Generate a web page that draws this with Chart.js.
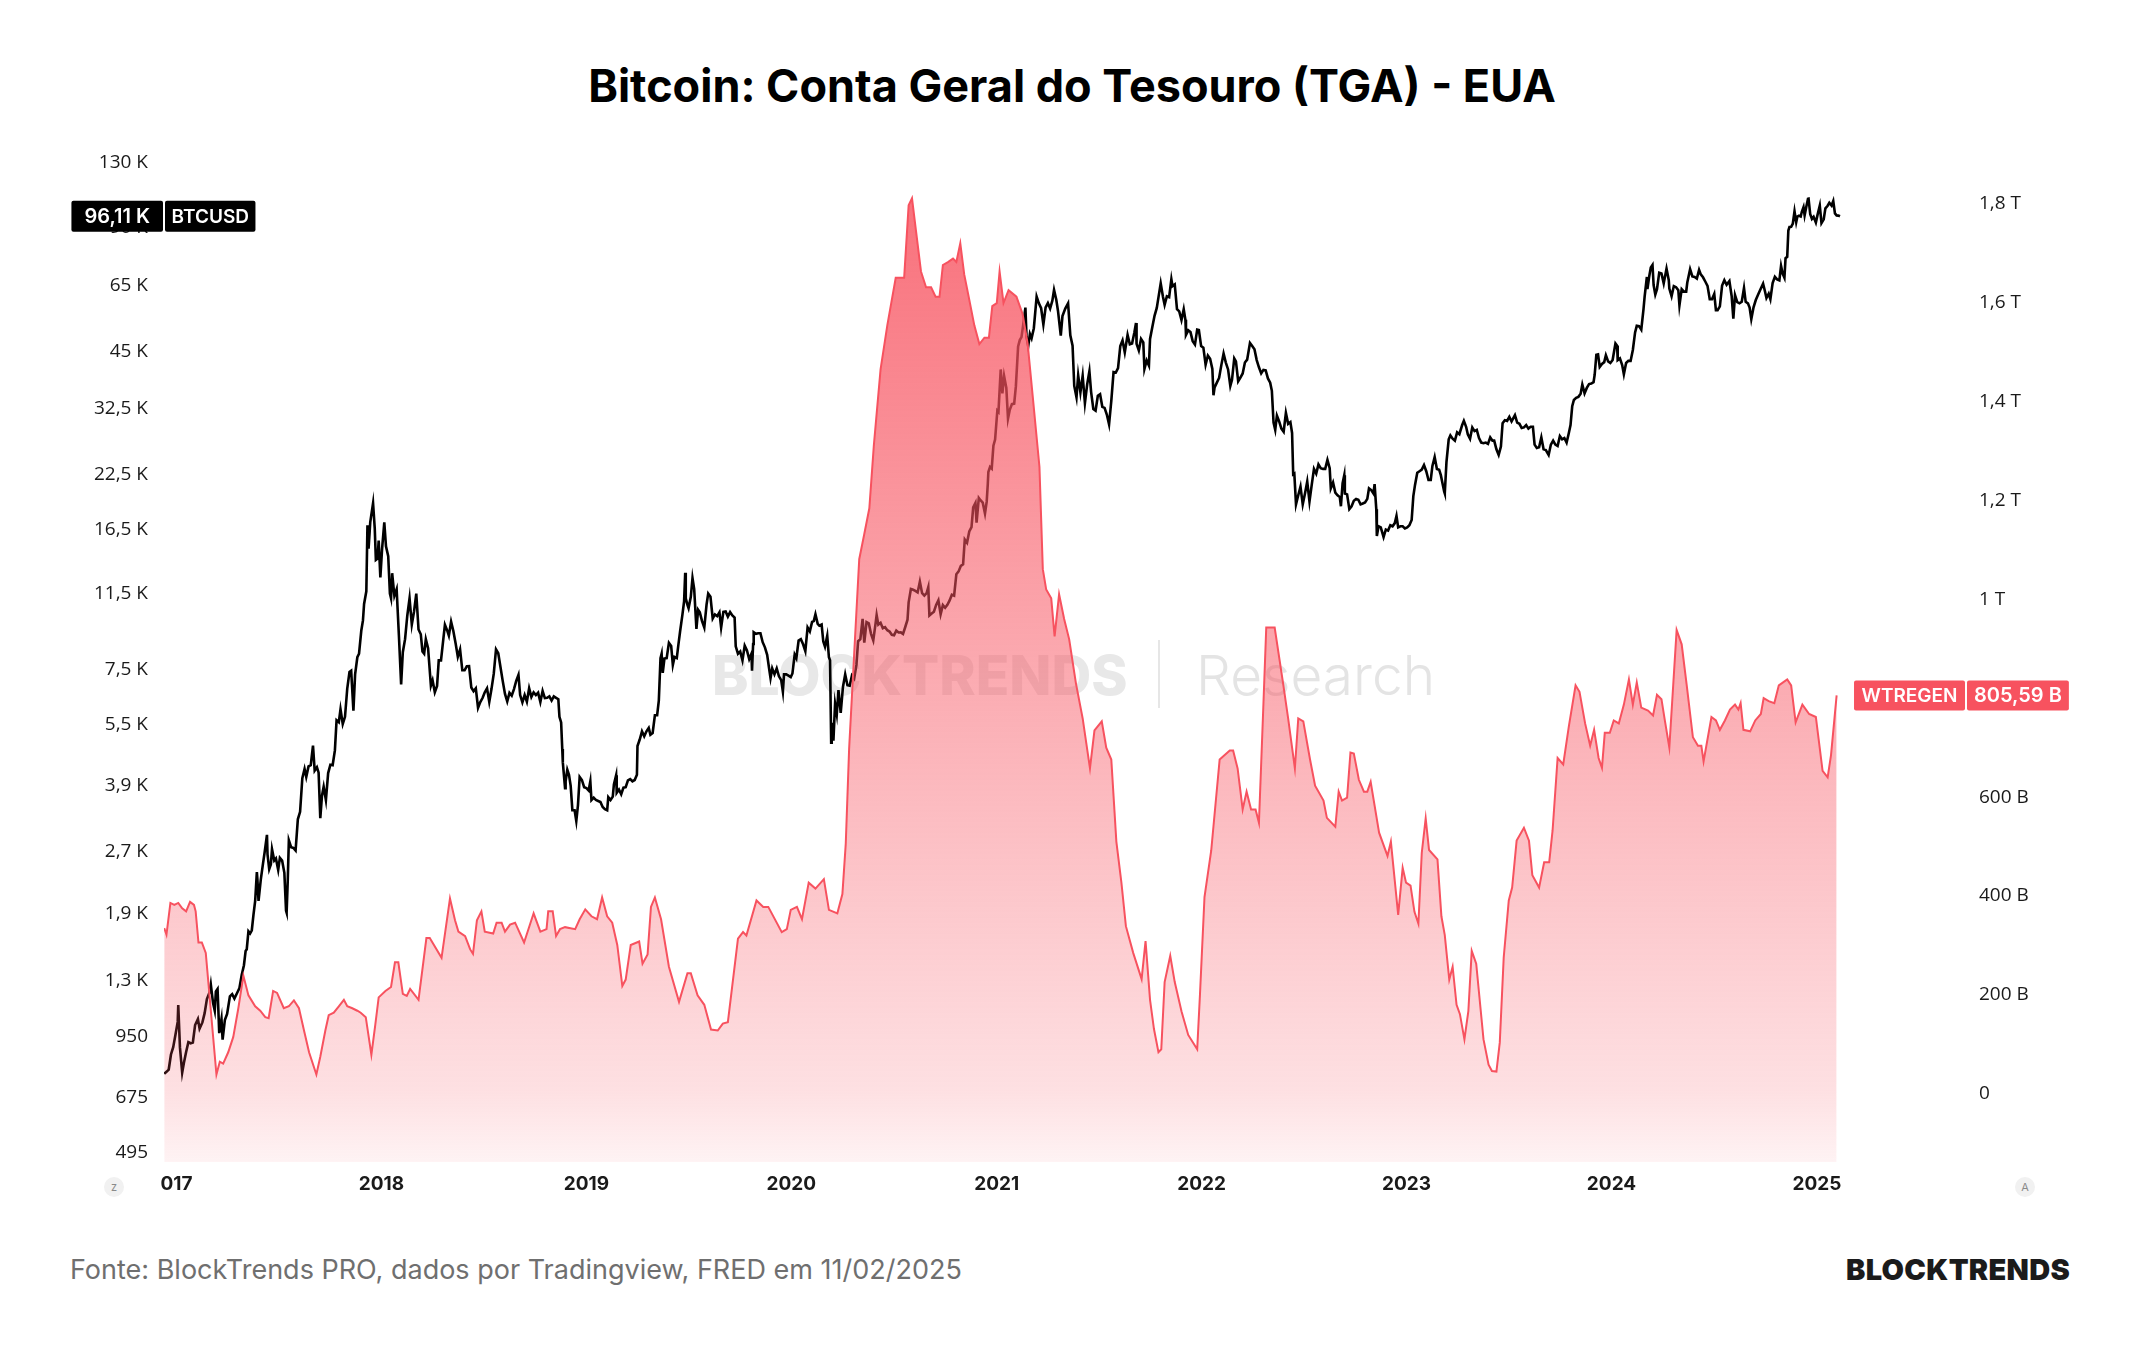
<!DOCTYPE html>
<html>
<head>
<meta charset="utf-8">
<script src="https://cdn.jsdelivr.net/npm/chart.js@4.4.1/dist/chart.umd.min.js"></script>
<style>
  html, body { margin:0; padding:0; background:#ffffff; width:2144px; height:1350px; overflow:hidden; font-family:Inter, "Noto Sans", sans-serif; }
  #wrap { position:relative; width:2144px; height:1350px; }
  #title { position:absolute; left:0; top:59px; width:2144px; text-align:center; font-weight:700; font-size:45px; line-height:54px; color:#000; }
  .wm { position:absolute; white-space:nowrap; font-size:55px; line-height:72px; top:639px; z-index:0; }
  #wm1 { left:712px; font-weight:800; color:#e8e8e8; }
  #wmbar { position:absolute; left:1158px; top:640px; width:2px; height:68px; background:#e6e6e6; z-index:0; }
  #wm2 { left:1196px; font-weight:300; color:#e4e4e4; }
  #chart { position:absolute; left:0; top:0; z-index:1; }
  #footer { position:absolute; left:70px; top:1252px; font-size:27px; line-height:36px; color:#6f6f6f; }
  #logo { position:absolute; left:1846px; top:1252px; font-size:29px; line-height:36px; font-weight:900; letter-spacing:0.3px; color:#1b1b1b; }
  .btn { position:absolute; width:20px; height:20px; border-radius:50%; background:#f1f1f1; color:#8a8a8a; font-size:11px; line-height:20px; text-align:center; z-index:2; }
</style>
</head>
<body>
<div id="wrap">
  <div id="title">Bitcoin: Conta Geral do Tesouro (TGA) - EUA</div>
  <div class="wm" id="wm1">BLOCKTRENDS</div>
  <div id="wmbar"></div>
  <div class="wm" id="wm2">Research</div>
  <canvas id="chart" width="2144" height="1350"></canvas>
  <div class="btn" style="left:104px;top:1177px;">z</div>
  <div class="btn" style="left:2015px;top:1177px;">A</div>
  <div id="footer">Fonte: BlockTrends PRO, dados por Tradingview, FRED em 11/02/2025</div>
  <div id="logo">BLOCKTRENDS</div>
</div>
<script>
// ---------- DATA ----------
const btcSymbol = 'BTCUSD';
const tgaSymbol = 'WTREGEN';

const yearTicks = [2017, 2018, 2019, 2020, 2021, 2022, 2023, 2024, 2025];
const btcTicks = [130000, 90000, 65000, 45000, 32500, 22500, 16500, 11500, 7500, 5500, 3900, 2700, 1900, 1300, 950, 675, 495];
const tgaTicks = [0, 200, 400, 600, 800, 1000, 1200, 1400, 1600, 1800]; // billions

// BTCUSD daily close (sampled), USD
const btcCloses = [
['2016-12-10',772],['2016-12-14',780],['2016-12-18',790],['2016-12-22',860],['2016-12-26',896],['2016-12-30',961],
['2017-01-03',1033],['2017-01-04',1135],['2017-01-07',895],['2017-01-11',777],['2017-01-14',820],['2017-01-18',872],['2017-01-22',922],['2017-01-26',916],['2017-01-30',920],
['2017-02-03',1015],['2017-02-08',1050],['2017-02-11',995],['2017-02-16',1030],['2017-02-20',1085],['2017-02-24',1175],
['2017-03-01',1222],['2017-03-03',1275],['2017-03-07',1148],['2017-03-10',1100],['2017-03-12',1226],['2017-03-15',1243],['2017-03-18',970],['2017-03-22',1050],['2017-03-24',935],['2017-03-28',1044],
['2017-04-01',1080],['2017-04-06',1193],['2017-04-10',1207],['2017-04-14',1178],['2017-04-19',1217],['2017-04-23',1250],['2017-04-27',1345],
['2017-05-01',1421],['2017-05-04',1540],['2017-05-06',1555],['2017-05-09',1720],['2017-05-12',1700],['2017-05-15',1730],['2017-05-18',1890],['2017-05-21',2040],['2017-05-24',2400],['2017-05-25',2300],['2017-05-27',2040],['2017-05-31',2300],
['2017-06-04',2520],['2017-06-07',2690],['2017-06-11',2960],['2017-06-12',2650],['2017-06-15',2440],['2017-06-18',2510],['2017-06-20',2730],['2017-06-24',2560],['2017-06-27',2590],
['2017-07-01',2430],['2017-07-04',2600],['2017-07-08',2560],['2017-07-12',2390],['2017-07-15',1930],['2017-07-16',1910],['2017-07-18',2280],['2017-07-20',2870],['2017-07-24',2760],['2017-07-28',2750],
['2017-08-01',2710],['2017-08-05',3230],['2017-08-09',3370],['2017-08-13',4070],['2017-08-17',4290],['2017-08-20',4100],['2017-08-24',4350],['2017-08-28',4380],
['2017-09-01',4890],['2017-09-04',4250],['2017-09-08',4330],['2017-09-11',4200],['2017-09-14',3250],['2017-09-17',3690],['2017-09-20',3880],['2017-09-24',3600],['2017-09-28',4190],
['2017-10-02',4390],['2017-10-06',4380],['2017-10-10',4760],['2017-10-13',5640],['2017-10-17',5580],['2017-10-20',6000],['2017-10-24',5520],['2017-10-28',5750],
['2017-11-01',6740],['2017-11-05',7400],['2017-11-08',7450],['2017-11-12',5950],['2017-11-15',7300],['2017-11-19',8040],['2017-11-22',8200],['2017-11-26',9330],['2017-11-29',9890],
['2017-12-01',10850],['2017-12-05',11650],['2017-12-07',16900],['2017-12-09',14800],['2017-12-12',17200],['2017-12-17',19140],['2017-12-20',16600],['2017-12-22',13900],['2017-12-25',14000],['2017-12-27',15500],['2017-12-30',12600],
['2018-01-02',14750],['2018-01-06',17170],['2018-01-09',15000],['2018-01-13',14200],['2018-01-16',11500],['2018-01-18',11200],['2018-01-20',12900],['2018-01-24',11360],['2018-01-28',11790],
['2018-02-01',9100],['2018-02-05',6900],['2018-02-08',8270],['2018-02-12',8900],['2018-02-16',10170],['2018-02-20',11200],['2018-02-24',9660],['2018-02-28',10400],
['2018-03-04',11500],['2018-03-08',9400],['2018-03-12',9150],['2018-03-15',8300],['2018-03-18',8200],['2018-03-21',8900],['2018-03-25',8460],['2018-03-30',6850],
['2018-04-02',7060],['2018-04-06',6600],['2018-04-10',6840],['2018-04-13',7900],['2018-04-17',7900],['2018-04-21',8860],['2018-04-24',9650],['2018-04-28',9350],
['2018-05-01',9080],['2018-05-05',9820],['2018-05-09',9320],['2018-05-13',8700],['2018-05-17',8060],['2018-05-21',8400],['2018-05-25',7470],['2018-05-29',7470],
['2018-06-02',7640],['2018-06-06',7650],['2018-06-10',6780],['2018-06-14',6640],['2018-06-18',6750],['2018-06-22',6050],['2018-06-26',6250],['2018-06-30',6390],
['2018-07-04',6600],['2018-07-08',6750],['2018-07-12',6250],['2018-07-16',6730],['2018-07-20',7330],['2018-07-24',8400],['2018-07-28',8220],
['2018-08-01',7600],['2018-08-05',7030],['2018-08-09',6540],['2018-08-13',6270],['2018-08-17',6580],['2018-08-21',6480],['2018-08-25',6720],['2018-08-29',7040],
['2018-09-02',7280],['2018-09-05',6500],['2018-09-09',6240],['2018-09-13',6500],['2018-09-17',6260],['2018-09-21',6750],['2018-09-25',6430],['2018-09-29',6600],
['2018-10-03',6500],['2018-10-07',6590],['2018-10-11',6250],['2018-10-15',6650],['2018-10-19',6390],['2018-10-23',6400],['2018-10-27',6450],['2018-10-31',6300],
['2018-11-04',6450],['2018-11-08',6400],['2018-11-12',6350],['2018-11-14',5750],['2018-11-17',5570],['2018-11-19',4800],['2018-11-20',4450],['2018-11-24',3850],['2018-11-25',4000],['2018-11-28',4270],
['2018-12-01',4150],['2018-12-04',3900],['2018-12-07',3400],['2018-12-11',3400],['2018-12-14',3200],['2018-12-17',3500],['2018-12-20',4100],['2018-12-24',4030],['2018-12-28',3870],
['2019-01-01',3850],['2019-01-05',3800],['2019-01-08',4000],['2019-01-10',3600],['2019-01-14',3650],['2019-01-18',3600],['2019-01-22',3580],['2019-01-26',3560],['2019-01-30',3460],
['2019-02-03',3420],['2019-02-07',3400],['2019-02-09',3660],['2019-02-13',3600],['2019-02-17',3670],['2019-02-19',3930],['2019-02-23',4140],['2019-02-24',3750],['2019-02-28',3820],
['2019-03-04',3720],['2019-03-08',3860],['2019-03-12',3870],['2019-03-16',4020],['2019-03-20',4050],['2019-03-24',4000],['2019-03-28',4030],
['2019-04-01',4150],['2019-04-02',4880],['2019-04-06',5060],['2019-04-10',5300],['2019-04-14',5150],['2019-04-18',5300],['2019-04-22',5400],['2019-04-25',5200],['2019-04-29',5250],
['2019-05-03',5800],['2019-05-07',5800],['2019-05-10',6300],['2019-05-13',8000],['2019-05-15',8200],['2019-05-17',7360],['2019-05-20',7980],['2019-05-24',8000],['2019-05-28',8720],
['2019-06-01',8570],['2019-06-04',7700],['2019-06-07',8050],['2019-06-11',8000],['2019-06-14',8660],['2019-06-17',9320],['2019-06-21',10200],['2019-06-24',11000],['2019-06-26',12930],['2019-06-27',11200],['2019-06-30',10800],
['2019-07-02',10600],['2019-07-06',11300],['2019-07-09',12550],['2019-07-12',11800],['2019-07-16',9430],['2019-07-19',10500],['2019-07-22',10350],['2019-07-26',9850],['2019-07-30',9500],
['2019-08-03',10800],['2019-08-06',11500],['2019-08-10',11300],['2019-08-14',10000],['2019-08-18',10230],['2019-08-22',10130],['2019-08-26',10350],['2019-08-29',9500],
['2019-09-02',10380],['2019-09-06',10400],['2019-09-10',10100],['2019-09-14',10360],['2019-09-18',10170],['2019-09-22',10050],['2019-09-24',8550],['2019-09-28',8200],
['2019-10-02',8300],['2019-10-06',7900],['2019-10-10',8580],['2019-10-14',8350],['2019-10-18',7950],['2019-10-22',8200],['2019-10-23',7450],['2019-10-25',8660],['2019-10-26',9250],['2019-10-30',9170],
['2019-11-03',9200],['2019-11-07',9200],['2019-11-11',8750],['2019-11-15',8500],['2019-11-19',8150],['2019-11-22',7620],['2019-11-25',7150],['2019-11-28',7550],
['2019-12-02',7300],['2019-12-06',7550],['2019-12-10',7220],['2019-12-14',7070],['2019-12-17',6620],['2019-12-19',7300],['2019-12-23',7300],['2019-12-27',7250],['2019-12-31',7190],
['2020-01-03',7340],['2020-01-07',8160],['2020-01-10',8000],['2020-01-14',8830],['2020-01-18',8900],['2020-01-22',8650],['2020-01-26',8320],['2020-01-30',9510],
['2020-02-03',9300],['2020-02-07',9810],['2020-02-10',9850],['2020-02-13',10240],['2020-02-17',9700],['2020-02-20',9600],['2020-02-24',9660],['2020-02-27',8780],
['2020-03-01',8530],['2020-03-05',9070],['2020-03-08',8040],['2020-03-10',7900],['2020-03-12',4970],['2020-03-13',5560],['2020-03-16',5030],['2020-03-19',6190],['2020-03-22',5830],['2020-03-25',6680],['2020-03-29',5880],
['2020-04-02',6800],['2020-04-06',7300],['2020-04-10',6870],['2020-04-14',6850],['2020-04-18',7250],['2020-04-22',7130],['2020-04-26',7700],['2020-04-29',8800],
['2020-05-03',8900],['2020-05-07',9980],['2020-05-10',8730],['2020-05-14',9800],['2020-05-18',9730],['2020-05-22',9170],['2020-05-26',8840],['2020-05-30',9700],
['2020-06-01',10200],['2020-06-04',9660],['2020-06-08',9760],['2020-06-12',9460],['2020-06-16',9520],['2020-06-20',9360],['2020-06-24',9290],['2020-06-28',9120],
['2020-07-02',9100],['2020-07-06',9340],['2020-07-10',9240],['2020-07-14',9250],['2020-07-18',9170],['2020-07-22',9530],['2020-07-26',9930],['2020-07-28',10950],
['2020-08-01',11800],['2020-08-05',11750],['2020-08-09',11680],['2020-08-13',11580],['2020-08-17',12300],['2020-08-21',11530],['2020-08-25',11370],['2020-08-29',11530],
['2020-09-01',11920],['2020-09-03',10170],['2020-09-07',10280],['2020-09-11',10390],['2020-09-15',10790],['2020-09-19',11080],['2020-09-23',10240],['2020-09-27',10780],
['2020-10-01',10620],['2020-10-05',10800],['2020-10-09',11070],['2020-10-13',11430],['2020-10-17',11370],['2020-10-21',12830],['2020-10-25',13030],['2020-10-29',13450],
['2020-11-02',13560],['2020-11-05',15590],['2020-11-09',15310],['2020-11-13',16310],['2020-11-17',16720],['2020-11-20',18680],['2020-11-24',19150],['2020-11-26',17150],['2020-11-30',19700],
['2020-12-03',19450],['2020-12-07',19190],['2020-12-11',18050],['2020-12-14',19270],['2020-12-16',21310],['2020-12-17',22800],['2020-12-20',23470],['2020-12-23',23240],['2020-12-26',26440],['2020-12-29',27360],
['2021-01-02',32200],['2021-01-04',31970],['2021-01-08',40600],['2021-01-11',35500],['2021-01-14',39150],['2021-01-18',36600],['2021-01-21',30800],['2021-01-24',32290],['2021-01-28',33400],
['2021-02-01',33500],['2021-02-04',36900],['2021-02-08',46200],['2021-02-11',47900],['2021-02-14',48700],['2021-02-17',52100],['2021-02-21',57500],['2021-02-23',48800],['2021-02-26',46300],
['2021-03-01',49600],['2021-03-04',48400],['2021-03-08',51200],['2021-03-13',61200],['2021-03-17',58900],['2021-03-21',57300],['2021-03-25',52300],['2021-03-29',57600],
['2021-04-02',59000],['2021-04-06',57200],['2021-04-10',59800],['2021-04-13',63500],['2021-04-17',60100],['2021-04-20',56500],['2021-04-25',49100],['2021-04-28',54800],
['2021-05-03',57200],['2021-05-08',58900],['2021-05-12',49200],['2021-05-16',46400],['2021-05-19',37000],['2021-05-23',34700],['2021-05-26',39300],['2021-05-30',35700],
['2021-06-03',39200],['2021-06-07',33600],['2021-06-11',37300],['2021-06-15',40200],['2021-06-18',35800],['2021-06-22',32500],['2021-06-26',32200],['2021-06-30',35000],
['2021-07-04',35300],['2021-07-08',32900],['2021-07-12',32700],['2021-07-16',31500],['2021-07-20',29800],['2021-07-24',34000],['2021-07-28',40000],
['2021-08-01',39900],['2021-08-05',40900],['2021-08-09',46300],['2021-08-13',47800],['2021-08-17',44700],['2021-08-22',49300],['2021-08-26',46800],['2021-08-30',47000],
['2021-09-03',49900],['2021-09-06',52700],['2021-09-07',46900],['2021-09-11',45200],['2021-09-15',48200],['2021-09-19',47300],['2021-09-21',40700],['2021-09-25',42700],['2021-09-29',41500],
['2021-10-01',48200],['2021-10-05',51500],['2021-10-09',54900],['2021-10-13',57400],['2021-10-16',60900],['2021-10-20',65900],['2021-10-24',61100],['2021-10-27',58400],['2021-10-31',61300],
['2021-11-04',61000],['2021-11-08',67500],['2021-11-10',64900],['2021-11-14',65500],['2021-11-18',57000],['2021-11-22',56300],['2021-11-26',53600],['2021-11-30',57000],
['2021-12-03',53700],['2021-12-04',49300],['2021-12-08',50600],['2021-12-12',50100],['2021-12-16',47600],['2021-12-20',46700],['2021-12-24',50800],['2021-12-27',50700],['2021-12-31',46300],
['2022-01-04',45900],['2022-01-08',41700],['2022-01-12',43900],['2022-01-16',43100],['2022-01-20',40700],['2022-01-22',35100],['2022-01-24',36700],['2022-01-28',37700],
['2022-02-01',38700],['2022-02-05',41600],['2022-02-09',44400],['2022-02-13',42200],['2022-02-17',40600],['2022-02-21',37000],['2022-02-24',38300],['2022-02-28',43200],
['2022-03-03',42500],['2022-03-07',38000],['2022-03-11',38800],['2022-03-15',39700],['2022-03-19',42200],['2022-03-23',42900],['2022-03-28',47100],
['2022-04-01',46300],['2022-04-05',45500],['2022-04-09',42800],['2022-04-13',41100],['2022-04-17',39700],['2022-04-21',40500],['2022-04-25',40400],['2022-04-29',38600],
['2022-05-03',37700],['2022-05-06',36000],['2022-05-09',30100],['2022-05-12',28900],['2022-05-15',31300],['2022-05-19',30300],['2022-05-23',29100],['2022-05-27',28600],['2022-05-31',31800],
['2022-06-04',29900],['2022-06-08',30200],['2022-06-11',28400],['2022-06-13',22500],['2022-06-15',22600],['2022-06-18',19000],['2022-06-22',20000],['2022-06-26',21000],['2022-06-30',19000],
['2022-07-04',20200],['2022-07-08',21600],['2022-07-12',19300],['2022-07-16',21200],['2022-07-20',23200],['2022-07-24',22600],['2022-07-28',23800],
['2022-08-01',23300],['2022-08-05',23200],['2022-08-09',23200],['2022-08-13',24400],['2022-08-17',23300],['2022-08-19',20800],['2022-08-23',21500],['2022-08-27',20300],['2022-08-31',20000],
['2022-09-04',19800],['2022-09-06',18800],['2022-09-09',21400],['2022-09-12',22400],['2022-09-13',20200],['2022-09-17',20100],['2022-09-21',18500],['2022-09-25',18800],['2022-09-29',19400],
['2022-10-03',19600],['2022-10-07',19500],['2022-10-11',19000],['2022-10-15',19100],['2022-10-19',19200],['2022-10-23',19600],['2022-10-26',20800],['2022-10-30',20600],
['2022-11-03',20200],['2022-11-05',21300],['2022-11-08',18500],['2022-11-09',15900],['2022-11-12',16800],['2022-11-16',16700],['2022-11-21',15800],['2022-11-25',16500],['2022-11-29',16400],
['2022-12-03',16900],['2022-12-07',16800],['2022-12-11',17100],['2022-12-14',17800],['2022-12-17',16700],['2022-12-21',16800],['2022-12-25',16800],['2022-12-29',16600],
['2023-01-02',16700],['2023-01-06',16900],['2023-01-10',17400],['2023-01-13',19900],['2023-01-16',21200],['2023-01-20',22700],['2023-01-24',22900],['2023-01-28',23100],
['2023-02-01',23700],['2023-02-05',22900],['2023-02-09',21800],['2023-02-13',21800],['2023-02-16',23600],['2023-02-20',24800],['2023-02-24',23200],['2023-02-28',23100],
['2023-03-03',22400],['2023-03-09',20400],['2023-03-10',20200],['2023-03-13',24100],['2023-03-17',27400],['2023-03-20',28000],['2023-03-24',27500],['2023-03-28',27200],
['2023-04-01',28500],['2023-04-05',28200],['2023-04-10',29700],['2023-04-13',30400],['2023-04-17',29400],['2023-04-20',28200],['2023-04-24',27500],['2023-04-28',29300],
['2023-05-02',28700],['2023-05-06',28900],['2023-05-10',27600],['2023-05-14',26900],['2023-05-18',26800],['2023-05-22',26900],['2023-05-26',26700],['2023-05-30',27700],
['2023-06-03',27200],['2023-06-06',27200],['2023-06-10',25900],['2023-06-14',25100],['2023-06-18',26300],['2023-06-21',30000],['2023-06-25',30500],['2023-06-29',30400],
['2023-07-03',31100],['2023-07-07',30300],['2023-07-13',31400],['2023-07-17',30100],['2023-07-21',29900],['2023-07-25',29200],['2023-07-29',29300],
['2023-08-02',29700],['2023-08-06',29100],['2023-08-10',29400],['2023-08-14',29400],['2023-08-17',26600],['2023-08-21',26100],['2023-08-25',26200],['2023-08-29',27700],
['2023-09-02',25900],['2023-09-06',25800],['2023-09-11',25100],['2023-09-15',26600],['2023-09-19',27200],['2023-09-23',26600],['2023-09-27',26400],
['2023-10-01',27900],['2023-10-05',27400],['2023-10-09',27600],['2023-10-13',26900],['2023-10-17',28400],['2023-10-20',29700],['2023-10-23',33000],['2023-10-26',34200],['2023-10-30',34600],
['2023-11-03',34800],['2023-11-07',35400],['2023-11-10',37300],['2023-11-14',35500],['2023-11-18',36600],['2023-11-22',37400],['2023-11-26',37500],['2023-11-30',37800],
['2023-12-02',39400],['2023-12-05',44100],['2023-12-08',44200],['2023-12-11',41200],['2023-12-15',41900],['2023-12-19',42300],['2023-12-22',44000],['2023-12-26',42500],['2023-12-30',42100],
['2024-01-03',42800],['2024-01-08',47000],['2024-01-11',46400],['2024-01-12',42800],['2024-01-16',43200],['2024-01-20',41600],['2024-01-23',39500],['2024-01-27',42100],['2024-01-31',42600],
['2024-02-04',42600],['2024-02-08',45300],['2024-02-12',50000],['2024-02-15',51900],['2024-02-19',51800],['2024-02-23',50800],['2024-02-27',57000],['2024-02-29',61200],
['2024-03-04',68300],['2024-03-05',63800],['2024-03-08',68300],['2024-03-11',72100],['2024-03-14',73100],['2024-03-16',65300],['2024-03-19',61900],['2024-03-22',63800],['2024-03-26',70000],['2024-03-30',69700],
['2024-04-03',65900],['2024-04-08',71600],['2024-04-12',67100],['2024-04-13',64000],['2024-04-17',61300],['2024-04-21',64900],['2024-04-25',64500],['2024-04-29',63400],
['2024-05-01',58200],['2024-05-05',63800],['2024-05-09',62900],['2024-05-13',62900],['2024-05-15',66200],['2024-05-20',71400],['2024-05-24',68500],['2024-05-28',68300],
['2024-06-01',67700],['2024-06-05',71100],['2024-06-08',69300],['2024-06-12',68200],['2024-06-16',66600],['2024-06-20',65000],['2024-06-24',60300],['2024-06-28',60300],
['2024-07-02',62100],['2024-07-05',56700],['2024-07-08',56700],['2024-07-12',57900],['2024-07-16',65100],['2024-07-20',67100],['2024-07-24',65400],['2024-07-29',66800],
['2024-08-02',61400],['2024-08-05',54000],['2024-08-08',61700],['2024-08-12',59300],['2024-08-16',58900],['2024-08-20',59400],['2024-08-24',64200],['2024-08-27',59400],['2024-08-31',58900],
['2024-09-03',57500],['2024-09-06',53900],['2024-09-10',57600],['2024-09-14',60000],['2024-09-18',61800],['2024-09-22',63600],['2024-09-27',65800],['2024-09-30',63300],
['2024-10-03',60700],['2024-10-07',62200],['2024-10-10',60300],['2024-10-14',66000],['2024-10-18',68400],['2024-10-22',67400],['2024-10-26',67000],['2024-10-29',72700],
['2024-11-01',69500],['2024-11-04',68000],['2024-11-06',75900],['2024-11-09',76500],['2024-11-11',88700],['2024-11-13',90500],['2024-11-16',90600],['2024-11-19',92300],['2024-11-22',98900],['2024-11-25',93000],['2024-11-27',95900],['2024-11-30',96400],
['2024-12-03',96000],['2024-12-05',98600],['2024-12-08',101200],['2024-12-10',96600],['2024-12-13',101400],['2024-12-16',106000],['2024-12-17',106100],['2024-12-20',97200],['2024-12-23',94700],['2024-12-26',95800],['2024-12-30',92800],
['2025-01-02',96900],['2025-01-06',102100],['2025-01-09',92500],['2025-01-13',94500],['2025-01-16',100500],['2025-01-20',102000],['2025-01-23',103700],['2025-01-27',102100],['2025-01-30',104700],
['2025-02-02',97700],['2025-02-05',96600],['2025-02-08',96500],['2025-02-11',96110]
];

// WTREGEN weekly Treasury General Account balance, billions USD
const tgaBalances = [
['2016-12-10',335],['2016-12-14',322],['2016-12-21',386],['2016-12-28',382],
['2017-01-04',386],['2017-01-11',375],['2017-01-18',369],['2017-01-25',388],['2017-02-01',382],['2017-02-04',369],['2017-02-09',306],['2017-02-15',306],['2017-02-22',285],['2017-03-13',39],['2017-03-19',65],['2017-03-25',61],['2017-04-03',84],['2017-04-12',115],['2017-04-21',173],['2017-04-30',239],['2017-05-09',199],['2017-05-21',177],['2017-05-30',168],['2017-06-08',155],['2017-06-14',153],['2017-06-22',208],['2017-06-29',204],['2017-07-11',173],['2017-07-20',177],['2017-07-29',189],['2017-08-07',173],['2017-08-16',128],['2017-08-25',84],['2017-09-07',39],['2017-09-14',75],['2017-09-23',128],['2017-09-29',159],['2017-10-08',164],['2017-10-17',177],['2017-10-26',190],['2017-11-01',177],['2017-11-10',173],['2017-11-19',168],['2017-11-25',164],['2017-12-04',155],['2017-12-14',79],['2017-12-21',140],['2017-12-27',195],
['2018-01-08',208],['2018-01-18',216],['2018-01-25',266],['2018-01-31',266],['2018-02-08',202],['2018-02-15',198],['2018-02-21',212],['2018-03-08',190],['2018-03-22',315],['2018-03-28',315],['2018-04-18',275],['2018-05-03',395],['2018-05-12',351],['2018-05-18',328],['2018-05-30',319],['2018-06-08',292],['2018-06-13',283],['2018-06-20',351],['2018-06-28',369],['2018-07-04',328],['2018-07-19',324],['2018-07-25',346],['2018-08-03',346],['2018-08-09',328],['2018-08-18',342],['2018-08-27',346],['2018-09-12',306],['2018-09-29',365],['2018-10-11',328],['2018-10-22',333],['2018-10-25',369],['2018-11-02',369],['2018-11-08',319],['2018-11-15',333],['2018-11-24',337],['2018-12-12',333],['2018-12-20',353],['2018-12-30',373],
['2019-01-10',359],['2019-01-20',353],['2019-01-29',397],['2019-02-07',359],['2019-02-16',346],['2019-02-25',301],['2019-03-06',218],['2019-03-12',231],['2019-03-21',301],['2019-04-05',308],['2019-04-11',263],['2019-04-20',282],['2019-04-26',378],['2019-05-03',397],['2019-05-14',353],['2019-05-28',257],['2019-06-15',186],['2019-06-30',244],['2019-07-06',244],['2019-07-18',199],['2019-07-30',180],['2019-08-11',130],['2019-08-23',128],['2019-09-01',142],['2019-09-10',145],['2019-09-28',314],['2019-10-07',327],['2019-10-13',320],['2019-10-31',391],['2019-11-12',378],['2019-11-21',378],['2019-12-15',327],['2019-12-24',333],['2019-12-31',372],
['2020-01-11',378],['2020-01-20',353],['2020-02-01',427],['2020-02-13',415],['2020-02-28',434],['2020-03-08',372],['2020-03-23',365],['2020-04-01',404],['2020-04-07',506],['2020-04-13',698],['2020-04-22',890],['2020-05-01',1081],['2020-05-10',1132],['2020-05-19',1184],['2020-05-27',1311],['2020-06-08',1465],['2020-06-20',1554],['2020-07-05',1650],['2020-07-20',1650],['2020-07-28',1797],['2020-08-03',1811],['2020-08-10',1746],['2020-08-19',1663],['2020-08-28',1631],['2020-09-06',1631],['2020-09-14',1612],['2020-09-21',1612],['2020-09-27',1676],['2020-10-06',1682],['2020-10-15',1689],['2020-10-21',1682],['2020-10-28',1720],['2020-11-04',1657],['2020-11-13',1606],['2020-11-22',1554],['2020-12-01',1516],['2020-12-10',1529],['2020-12-18',1529],['2020-12-24',1593],
['2021-01-01',1599],['2021-01-06',1663],['2021-01-13',1599],['2021-01-22',1625],['2021-02-05',1612],['2021-02-16',1577],['2021-02-25',1517],['2021-03-06',1411],['2021-03-18',1268],['2021-03-24',1061],['2021-03-30',1020],['2021-04-08',1002],['2021-04-14',925],['2021-04-22',1010],['2021-05-01',960],['2021-05-10',919],['2021-05-22',830],['2021-06-03',759],['2021-06-16',658],['2021-06-24',735],['2021-07-07',753],['2021-07-15',700],['2021-07-24',676],['2021-08-02',510],['2021-08-11',427],['2021-08-19',339],['2021-09-01',285],['2021-09-16',232],['2021-09-23',309],['2021-10-01',190],['2021-10-08',131],['2021-10-16',84],['2021-10-21',90],['2021-10-27',226],['2021-11-06',279],['2021-11-14',226],['2021-11-26',167],['2021-12-08',119],['2021-12-24',90],['2021-12-29',202],
['2022-01-06',398],['2022-01-18',492],['2022-02-02',676],['2022-02-20',694],['2022-02-26',694],['2022-03-06',658],['2022-03-15',575],['2022-03-22',611],['2022-03-30',575],['2022-04-07',575],['2022-04-13',548],['2022-04-20',759],['2022-04-26',943],['2022-05-11',943],['2022-05-26',830],['2022-06-04',759],['2022-06-16',658],['2022-06-22',759],['2022-07-01',753],['2022-07-13',676],['2022-07-22',623],['2022-08-06',593],['2022-08-12',558],['2022-08-27',540],['2022-09-02',611],['2022-09-08',593],['2022-09-17',599],['2022-09-23',690],['2022-09-29',688],['2022-10-08',635],['2022-10-17',611],['2022-10-23',611],['2022-10-29',631],['2022-11-13',528],['2022-11-28',481],['2022-12-04',510],['2022-12-17',362],['2022-12-25',457],['2022-12-31',427],
['2023-01-08',421],['2023-01-15',368],['2023-01-22',344],['2023-01-28',487],['2023-02-04',557],['2023-02-10',493],['2023-02-25',474],['2023-03-04',359],['2023-03-10',321],['2023-03-18',231],['2023-03-24',257],['2023-03-31',180],['2023-04-06',161],['2023-04-14',110],['2023-04-21',167],['2023-04-27',289],['2023-05-05',263],['2023-05-18',110],['2023-05-27',59],['2023-06-02',46],['2023-06-10',45],['2023-06-16',104],['2023-06-23',276],['2023-07-02',391],['2023-07-08',417],['2023-07-16',512],['2023-07-29',538],['2023-08-07',512],['2023-08-13',442],['2023-08-25',417],['2023-09-03',468],['2023-09-12',468],['2023-09-18',532],['2023-09-27',679],['2023-10-07',666],['2023-10-17',743],['2023-10-29',826],['2023-11-05',813],['2023-11-15',749],['2023-11-24',704],['2023-12-01',736],['2023-12-09',679],['2023-12-15',659],['2023-12-20',730],['2023-12-29',730],
['2024-01-05',755],['2024-01-14',749],['2024-01-23',787],['2024-02-01',838],['2024-02-08',787],['2024-02-15',832],['2024-02-23',781],['2024-03-06',775],['2024-03-15',765],['2024-03-22',807],['2024-03-30',798],['2024-04-05',755],['2024-04-13',700],['2024-04-26',938],['2024-05-05',909],['2024-05-14',826],['2024-05-25',721],['2024-06-03',704],['2024-06-09',704],['2024-06-13',672],['2024-06-27',762],['2024-07-05',755],['2024-07-12',736],['2024-07-21',755],['2024-07-30',777],['2024-08-08',787],['2024-08-14',777],['2024-08-18',790],['2024-08-23',736],['2024-09-04',733],['2024-09-13',755],['2024-09-23',768],['2024-09-28',800],['2024-10-07',794],['2024-10-17',790],['2024-10-25',826],['2024-11-09',838],['2024-11-16',826],['2024-11-24',751],['2024-12-06',787],['2024-12-18',768],['2024-12-30',762],
['2025-01-11',653],['2025-01-20',640],['2025-01-26',685],['2025-02-05',805.59]
];

// ---------- HELPERS ----------
const DAY = 86400000;
const toTs = s => Date.parse(s + 'T00:00:00Z');
const btcPoints = btcCloses.map(([d, v]) => ({ x: toTs(d), y: v }));
const tgaPoints = tgaBalances.map(([d, v]) => ({ x: toTs(d), y: v }));
const btcLast = btcCloses[btcCloses.length - 1][1];
const tgaLast = tgaBalances[tgaBalances.length - 1][1];

const fmtNum = (v, dec) => {
  let s = dec != null ? v.toFixed(dec) : String(v);
  return s.replace('.', ',');
};
const fmtBtc = v => v >= 1000 ? fmtNum(+(v / 1000).toFixed(2)) + ' K' : String(v);
const fmtTga = v => v === 0 ? '0' : (v >= 1000 ? fmtNum(+(v / 1000).toFixed(2)) + ' T' : fmtNum(v) + ' B');

const RED = '#f7525f';
const TEXT = '#1a1a1a';
const FONT = 'Inter, "Noto Sans", sans-serif';
const TICKFONT = '"Open Sans", "Noto Sans", sans-serif';

const LEFT_W = 164, RIGHT_W = 181, TOP = 130, XAXIS_H = 40, BOTTOM_EDGE = 1162;

function tgaFill(context) {
  const chart = context.chart;
  const { ctx, chartArea } = chart;
  if (!chartArea) return 'rgba(247,82,95,0.4)';
  const g = ctx.createLinearGradient(0, chartArea.top, 0, chartArea.bottom);
  g.addColorStop(0, 'rgba(247,82,95,0.86)');
  g.addColorStop(0.07, 'rgba(247,82,95,0.82)');
  g.addColorStop(0.54, 'rgba(247,82,95,0.48)');
  g.addColorStop(0.93, 'rgba(247,82,95,0.18)');
  g.addColorStop(1, 'rgba(247,82,95,0.07)');
  return g;
}

function roundRect(ctx, x, y, w, h, r) {
  ctx.beginPath();
  ctx.moveTo(x + r, y);
  ctx.lineTo(x + w - r, y); ctx.quadraticCurveTo(x + w, y, x + w, y + r);
  ctx.lineTo(x + w, y + h - r); ctx.quadraticCurveTo(x + w, y + h, x + w - r, y + h);
  ctx.lineTo(x + r, y + h); ctx.quadraticCurveTo(x, y + h, x, y + h - r);
  ctx.lineTo(x, y + r); ctx.quadraticCurveTo(x, y, x + r, y);
  ctx.closePath();
}

const badgePlugin = {
  id: 'badges',
  afterDraw(chart) {
    const { ctx, chartArea, scales } = chart;
    ctx.save();
    ctx.textBaseline = 'middle';
    ctx.textAlign = 'center';
    const h = 31;
    // left BTC badge
    const yb = scales.y.getPixelForValue(btcLast);
    ctx.font = '600 20px ' + FONT;
    const t1 = fmtNum(+(btcLast / 1000).toFixed(2)) + ' K';
    const w1 = ctx.measureText(t1).width + 26;
    const x1r = chartArea.left - 1;
    ctx.fillStyle = '#000';
    roundRect(ctx, x1r - w1, yb - h / 2, w1, h, 2); ctx.fill();
    ctx.fillStyle = '#fff';
    ctx.fillText(t1, x1r - w1 / 2, yb + 1);
    ctx.font = '600 19px ' + FONT;
    const w2 = ctx.measureText(btcSymbol).width + 13;
    ctx.fillStyle = '#000';
    roundRect(ctx, chartArea.left + 1, yb - h / 2, w2, h, 2); ctx.fill();
    ctx.fillStyle = '#fff';
    ctx.fillText(btcSymbol, chartArea.left + 1 + w2 / 2, yb + 1);
    // right TGA badge
    const yt = scales.y1.getPixelForValue(tgaLast);
    ctx.font = '600 19px ' + FONT;
    const w3 = ctx.measureText(tgaSymbol).width + 15;
    const x3r = chartArea.right + 2;
    ctx.fillStyle = RED;
    roundRect(ctx, x3r - w3, yt - 15, w3, 30, 2); ctx.fill();
    ctx.fillStyle = '#fff';
    ctx.fillText(tgaSymbol, x3r - w3 / 2, yt + 1);
    ctx.font = '600 20px ' + FONT;
    const t4 = fmtNum(tgaLast, 2) + ' B';
    const w4 = ctx.measureText(t4).width + 14;
    ctx.fillStyle = RED;
    roundRect(ctx, x3r + 2, yt - 15, w4, 30, 2); ctx.fill();
    ctx.fillStyle = '#fff';
    ctx.fillText(t4, x3r + 2 + w4 / 2, yt + 1);
    ctx.restore();
  }
};

const ctx = document.getElementById('chart').getContext('2d');
new Chart(ctx, {
  type: 'line',
  data: {
    datasets: [
      {
        label: tgaSymbol,
        data: tgaPoints,
        yAxisID: 'y1',
        borderColor: RED,
        borderWidth: 2,
        backgroundColor: tgaFill,
        fill: 'start',
        pointRadius: 0,
        tension: 0
      },
      {
        label: btcSymbol,
        data: btcPoints,
        yAxisID: 'y',
        borderColor: '#000000',
        borderWidth: 2.6,
        fill: false,
        pointRadius: 0,
        tension: 0
      }
    ]
  },
  options: {
    responsive: false,
    animation: false,
    devicePixelRatio: 1,
    layout: { padding: { top: TOP, bottom: 1350 - BOTTOM_EDGE - XAXIS_H, left: 0, right: 0 } },
    plugins: { legend: { display: false }, tooltip: { enabled: false }, title: { display: false } },
    scales: {
      x: {
        type: 'linear',
        min: Date.UTC(2018, 0, 1) - 387.4 * DAY,
        max: Date.UTC(2025, 0, 1) + 260.1 * DAY,
        grid: { display: false, drawTicks: false },
        border: { display: false },
        afterBuildTicks: s => { s.ticks = yearTicks.map(y => ({ value: Date.UTC(y, 0, 1) })); },
        afterFit: s => { s.height = XAXIS_H; },
        ticks: {
          autoSkip: false, maxRotation: 0, padding: 11,
          color: TEXT, font: { family: FONT, size: 19, weight: '700' },
          callback: v => { const y = new Date(v).getUTCFullYear(); return y === yearTicks[0] ? String(y).slice(1) : String(y); }
        }
      },
      y: {
        type: 'logarithmic',
        position: 'left',
        min: 469.6,
        max: 156200,
        grid: { display: false, drawTicks: false },
        border: { display: false },
        afterBuildTicks: s => { s.ticks = btcTicks.map(v => ({ value: v })); },
        afterFit: s => { s.width = LEFT_W; },
        ticks: { autoSkip: false, padding: 16, color: TEXT, font: { family: TICKFONT, size: 19 }, callback: v => fmtBtc(v) }
      },
      y1: {
        type: 'linear',
        position: 'right',
        min: -137.9,
        max: 1949,
        grid: { display: false, drawTicks: false },
        border: { display: false },
        afterBuildTicks: s => { s.ticks = tgaTicks.map(v => ({ value: v })); },
        afterFit: s => { s.width = RIGHT_W; },
        ticks: { autoSkip: false, padding: 16, color: TEXT, font: { family: TICKFONT, size: 19 }, callback: v => fmtTga(v) }
      }
    }
  },
  plugins: [badgePlugin]
});
</script>
</body>
</html>
